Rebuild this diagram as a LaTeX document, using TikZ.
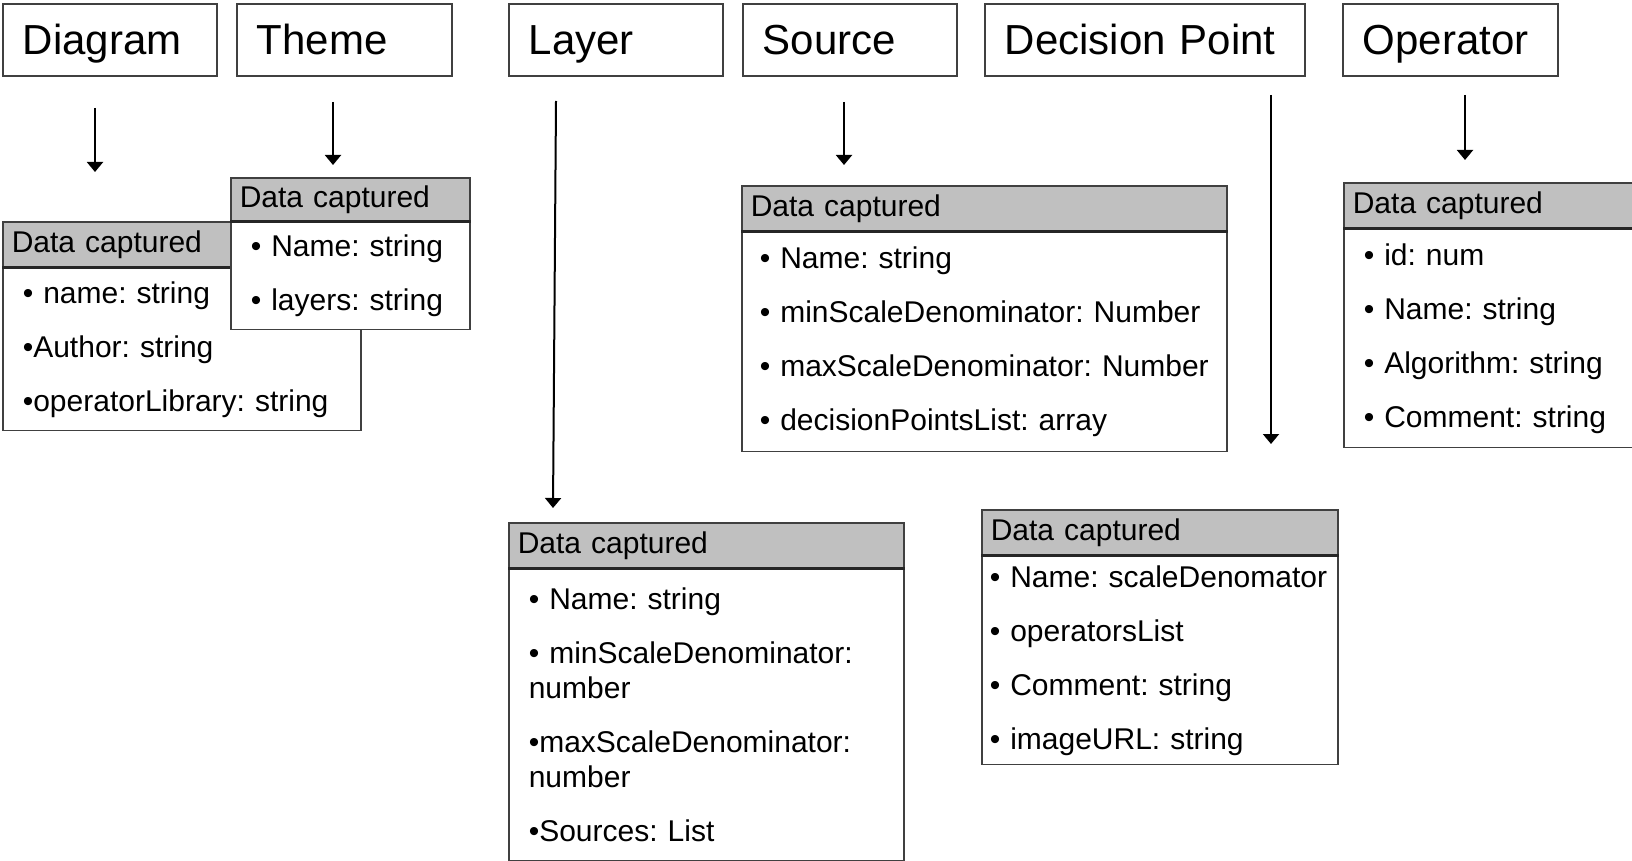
\documentclass[tikz,border=0pt]{standalone}
\usepackage{fontspec}
\setmainfont{Liberation Sans}
\usetikzlibrary{arrows.meta}
\usetikzlibrary{positioning}

\definecolor{boxline}{RGB}{64,64,64}
\definecolor{headgray}{RGB}{192,192,192}

\frenchspacing
\hyphenpenalty=10000
\hfuzz=8pt

\newcommand{\entityfont}{\fontsize{21}{25}\selectfont}
\newcommand{\datafont}{\fontsize{15}{17.5}\selectfont}

\tikzset{
  entity/.style={draw=boxline,line width=0.8pt,anchor=west,font=\entityfont,
    inner xsep=10pt,inner ysep=0pt,minimum height=36pt,text height=15pt,text depth=0pt,
    text width=#1,align=left},
  datahead/.style={draw=boxline,line width=0.8pt,fill=headgray,anchor=north west,
    font=\datafont,inner xsep=4.5pt,inner ysep=0pt,minimum height=22.5pt,
    text width=#1,align=left},
  databody/.style={draw=boxline,line width=0.8pt,fill=white,font=\datafont,
    inner xsep=10pt,inner ysep=0pt,text width=#1,align=left},
  headrule/.style={draw=black!85,line width=1.4pt},
  flow/.style={draw,line width=1pt,-{Triangle[length=5pt,width=8pt]}},
}

\begin{document}
\begin{tikzpicture}[x=0.5pt,y=-0.5pt]

  \useasboundingbox (0,0) rectangle (1632,861);
  \clip (0,0) rectangle (1632,861);

  % entities
  \node [entity=87pt]   (diagram)  at (2,40)    {Diagram};
  \node [entity=87.5pt] (theme)    at (236,40)  {Theme};
  \node [entity=87pt]   (layer)    at (508,40)  {Layer};
  \node [entity=87pt]   (source)   at (742,40)  {Source};
  \node [entity=140pt]  (decision) at (984,40)  {Decision Point};
  \node [entity=87.5pt] (operator) at (1342,40) {Operator};

  % data captured boxes
  \node [datahead=170pt] (diagram_head) at (2,221) {Data captured};
  \node [databody=159pt,minimum height=81pt,below=0pt of diagram_head] (diagram_body)
    {• name: string\\[9.5pt]•Author: string\\[9.5pt]•operatorLibrary: string};
  \path [headrule] (diagram_head.south west) -- (diagram_head.south east);

  \node [datahead=110.5pt,minimum height=21.5pt] (theme_head) at (230,177) {Data captured};
  \node [databody=99.5pt,minimum height=53.5pt,below=0pt of theme_head] (theme_body)
    {• Name: string\\[9.5pt]• layers: string};
  \path [headrule] (theme_head.south west) -- (theme_head.south east);

  \node [datahead=233.5pt] (source_head) at (741,185) {Data captured};
  \node [databody=224.5pt,inner xsep=9pt,minimum height=109.5pt,below=0pt of source_head] (source_body)
    {• Name: string\\[9.5pt]\mbox{• minScaleDenominator: Number}\\[9.5pt]\mbox{• maxScaleDenominator: Number}\\[9.5pt]• decisionPointsList: array};
  \path [headrule] (source_head.south west) -- (source_head.south east);

  \node [datahead=156pt] (operator_head) at (1343,182) {Data captured};
  \node [databody=145pt,minimum height=109pt,below=0pt of operator_head] (operator_body)
    {• id: num\\[9.5pt]• Name: string\\[9.5pt]• Algorithm: string\\[9.5pt]• Comment: string};
  \path [headrule] (operator_head.south west) -- (operator_head.south east);

  \node [datahead=188.5pt] (layer_head) at (508,522) {Data captured};
  \node [databody=177.5pt,minimum height=145.5pt,below=0pt of layer_head] (layer_body)
    {• Name: string\\[9.5pt]• minScaleDenominator:\\number\\[9.5pt]•maxScaleDenominator:\\number\\[9.5pt]•Sources: List};
  \path [headrule] (layer_head.south west) -- (layer_head.south east);

  \node [datahead=169pt] (decision_head) at (981,509) {Data captured};
  \node [databody=170pt,inner xsep=4pt,minimum height=104pt,below=0pt of decision_head] (decision_body)
    {\mbox{• Name: scaleDenomator}\\[9.5pt]• operatorsList\\[9.5pt]• Comment: string\\[9.5pt]• imageURL: string};
  \path [headrule] (decision_head.south west) -- (decision_head.south east);

  % arrows
  \coordinate (diagram_from)  at (95,108);   \coordinate (diagram_to)  at (95,172);
  \coordinate (theme_from)    at (333,102);  \coordinate (theme_to)    at (333,165);
  \coordinate (layer_from)    at (556,101);  \coordinate (layer_to)    at (553,508);
  \coordinate (source_from)   at (844,102);  \coordinate (source_to)   at (844,165);
  \coordinate (decision_from) at (1271,95);  \coordinate (decision_to) at (1271,444);
  \coordinate (operator_from) at (1465,95);  \coordinate (operator_to) at (1465,160);

  \path
    (diagram_from)  edge [flow] (diagram_to)
    (theme_from)    edge [flow] (theme_to)
    (layer_from)    edge [flow] (layer_to)
    (source_from)   edge [flow] (source_to)
    (decision_from) edge [flow] (decision_to)
    (operator_from) edge [flow] (operator_to);

\end{tikzpicture}
\end{document}
